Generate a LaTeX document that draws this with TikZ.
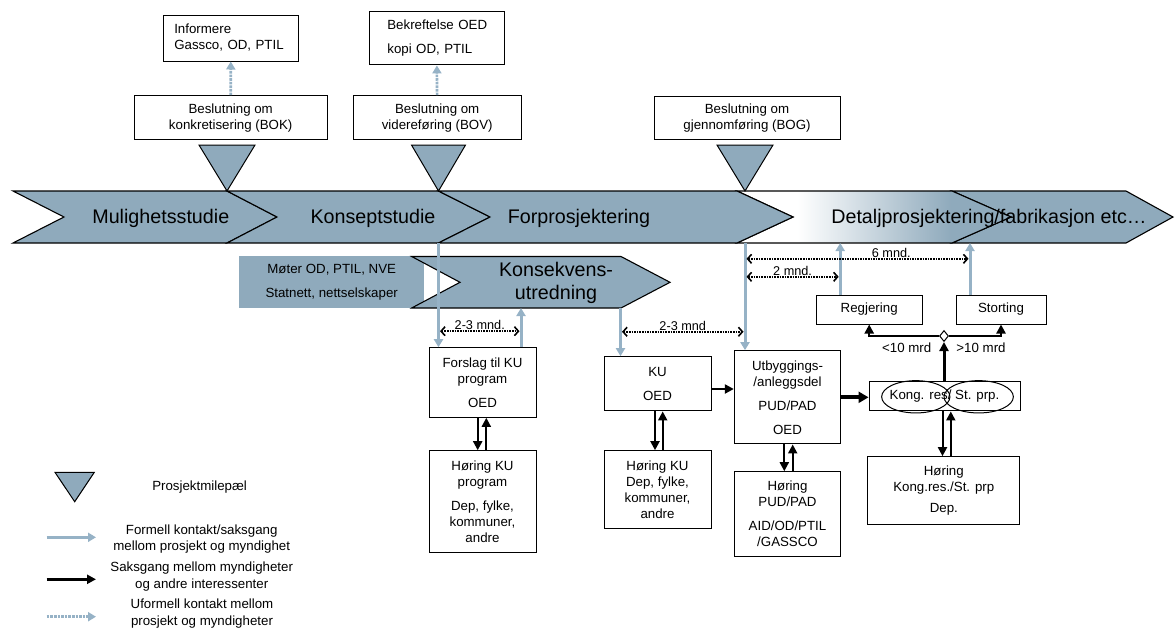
\documentclass[tikz,border=0pt]{standalone}
\usepackage{fontspec}
\setmainfont{Liberation Sans}
\usetikzlibrary{arrows.meta,shapes.geometric,calc}
\definecolor{phase}{RGB}{143,170,188}
\definecolor{contact}{RGB}{150,178,198}
\pgfdeclarehorizontalshading{detailfade}{100bp}{color(0bp)=(white); color(36bp)=(white); color(64bp)=(phase); color(100bp)=(phase)}
\tikzset{
  phasepath/.style={fill=phase, draw=black, line width=1.1pt},
  milestone/.style={fill=phase, draw=black, line width=1pt},
  infobox/.style={draw, line width=1pt, fill=white, align=center, inner sep=0pt, font=\fontsize{13.3}{16}\selectfont},
  formal/.style={contact, line width=3pt, -{Triangle[width=9pt,length=8pt]}},
  informal/.style={contact, line width=2.6pt, densely dotted, -{Triangle[width=9pt,length=8pt]}},
  saks/.style={black, line width=2pt, -{Triangle[width=9pt,length=9pt]}},
  timespan/.style={densely dotted, line width=1.6pt, {Straight Barb[length=4pt,width=9pt]}-{Straight Barb[length=4pt,width=9pt]}, shorten <=1.5pt, shorten >=1.5pt},
  spanlabel/.style={above, inner sep=0.5pt, font=\fontsize{12.7}{15}\selectfont},
  phaselabel/.style={anchor=base, font=\fontsize{19.7}{24}\selectfont},
  legendtext/.style={align=center, font=\fontsize{13.3}{16.6}\selectfont}
}

\begin{document}
\begin{tikzpicture}[x=1pt, y=-1pt]
  \useasboundingbox (0,0) rectangle (1175,629);

  % Phase band
  \draw[phasepath] (13,191) -- (227,191) -- (277,217) -- (227,243) -- (13,243) -- (64,217) -- cycle;
  \draw[phasepath] (227,191) -- (438.5,191) -- (490,217) -- (438.5,243) -- (227,243) -- (277,217) -- cycle;
  \draw[phasepath] (952,191) -- (1126,191) -- (1173,217) -- (1126,243) -- (952,243) -- (1011,217) -- cycle;
  \shadedraw[shading=detailfade, draw=black, line width=1.1pt] (737,191) -- (952,191) -- (1011,217) -- (952,243) -- (737,243) -- (793,217) -- cycle;
  \draw[phasepath] (438.5,191) -- (737,191) -- (793,217) -- (737,243) -- (438.5,243) -- (490,217) -- cycle;
  \coordinate (bandS) at (0,243);

  \node[phaselabel] (mul) at (160.8,223) {Mulighetsstudie};
  \node[phaselabel] (kon) at (373,223) {Konseptstudie};
  \node[phaselabel] (forp) at (579,223) {Forprosjektering};
  \node[phaselabel] (detalj) at (989,223) {Detaljprosjektering/fabrikasjon etc…};

  % Milestones
  \coordinate (mBOK) at (227,191);
  \coordinate (mBOV) at (438.5,191);
  \coordinate (mBOG) at (745,191);
  \draw[milestone] (mBOK) -- ++(-28,-46) -- ++(56,0) -- cycle;
  \draw[milestone] (mBOV) -- ++(-27,-46) -- ++(54,0) -- cycle;
  \draw[milestone] (mBOG) -- ++(-28,-46) -- ++(56,0) -- cycle;

  % Decisions
  \node[infobox, minimum width=192.7pt, minimum height=44.3pt] (bok) at (230.7,117.8) {Beslutning om\\konkretisering (BOK)};
  \node[infobox, minimum width=167.7pt, minimum height=44.3pt] (bov) at (437.2,117.8) {Beslutning om\\videreføring (BOV)};
  \node[infobox, minimum width=186pt, minimum height=43.3pt] (bog) at (747,118.3) {Beslutning om\\gjennomføring (BOG)};
  \node[infobox, align=left, text width=113pt, inner xsep=11pt, minimum height=46pt] (inform) at (230.8,38) {Informere\\Gassco, OD, PTIL};
  \node[infobox, align=left, text width=106.7pt, inner xsep=14pt, minimum height=53.3pt] (confirm) at (436.7,38.3) {\hspace*{4pt}Bekreftelse OED\\[8pt]\hspace*{4pt}kopi OD, PTIL};

  % Impact assessment
  \node[fill=phase, minimum width=184.7pt, minimum height=51.7pt, inner sep=0pt, align=center, font=\fontsize{13.3}{16}\selectfont] (moter) at (331.7,281.8) {Møter OD, PTIL, NVE\\[8pt]Statnett, nettselskaper};
  \draw[phasepath] (411.7,256.5) -- (621,256.5) -- (670,282.3) -- (621,308) -- (411.7,308) -- (460,282.3) -- cycle;
  \coordinate (kuS) at (0,308);
  \node[align=center, font=\fontsize{19.7}{23.3}\selectfont] (kons) at (556,283) {Konsekvens-\\utredning};

  % Case boxes
  \node[infobox, minimum width=107pt, minimum height=69.6pt] (forslag) at (482.5,382.5) {Forslag til KU\\program\\[8pt]OED};
  \node[infobox, minimum width=107pt, minimum height=102pt] (horku1) at (482.5,501.7) {Høring KU\\program\\[8pt]Dep, fylke,\\kommuner,\\andre};
  \node[infobox, minimum width=107pt, minimum height=54.3pt] (ku) at (657.5,383.8) {KU\\[8pt]OED};
  \node[infobox, minimum width=107pt, minimum height=77.6pt] (horku2) at (657.5,489.5) {Høring KU\\Dep, fylke,\\kommuner,\\andre};
  \node[infobox, minimum width=106.4pt, minimum height=93.3pt] (utb) at (787.5,397.3) {Utbyggings-\\/anleggsdel\\[8pt]PUD/PAD\\[8pt]OED};
  \node[infobox, minimum width=106.4pt, minimum height=85pt] (horpud) at (787.5,514.2) {Høring\\PUD/PAD\\[8pt]AID/OD/PTIL\\/GASSCO};
  \node[infobox, minimum width=106.3pt, minimum height=29pt] (regj) at (869.2,309.5) {Regjering};
  \node[infobox, minimum width=90pt, minimum height=29pt] (stort) at (1001,309.5) {Storting};
  \node[infobox, minimum width=151pt, minimum height=29.3pt] (kong) at (944.5,396.3) {Kong. res/ St. prp.};
  \node[draw, ellipse, line width=1pt, minimum width=68.3pt, minimum height=32.3pt, inner sep=0pt] (kres) at (915.8,396.8) {};
  \node[draw, ellipse, line width=1pt, minimum width=69.3pt, minimum height=32.3pt, inner sep=0pt] (stprp) at (978.7,396.8) {};
  \node[infobox, minimum width=152.3pt, minimum height=68.3pt] (horkong) at (943.8,490.8) {Høring\\Kong.res./St. prp\\[5pt]Dep.};
  \node[draw, diamond, fill=white, line width=1pt, minimum width=9pt, minimum height=11pt, inner sep=0pt] (split) at (944,336) {};

  % Informal contact
  \draw[informal] (bok) -- (inform);
  \draw[informal] (bov) -- (confirm);

  % Formal contact
  \coordinate (kuUp) at ([xshift=38.5pt]forslag.north);
  \coordinate (kuDown) at ([xshift=-37pt]ku.north);
  \coordinate (regUp) at ([xshift=-29pt]regj.north);
  \coordinate (stoUp) at ([xshift=-31pt]stort.north);
  \draw[formal] (mBOV |- bandS) -- (forslag.north -| mBOV);
  \draw[formal] (kuUp) -- (kuUp |- kuS);
  \draw[formal] (kuDown |- kuS) -- (kuDown);
  \draw[formal] (mBOG |- bandS) -- (utb.north -| mBOG);
  \draw[formal] (regUp) -- (regUp |- bandS);
  \draw[formal] (stoUp) -- (stoUp |- bandS);

  % Durations
  \draw[timespan] ([yshift=16pt]forslag.north -| mBOV) -- ([yshift=16pt]kuUp) node[spanlabel, midway] {2-3 mnd.};
  \draw[timespan] ([yshift=24.4pt]kuDown) -- ([yshift=24.4pt]kuDown -| mBOG) node[spanlabel, midway] {2-3 mnd};
  \draw[timespan] ([yshift=35.7pt]regUp -| mBOG) -- ([yshift=35.7pt]stoUp) node[spanlabel, pos=0.65] {6 mnd.};
  \draw[timespan] ([yshift=17.7pt]regUp -| mBOG) -- ([yshift=17.7pt]regUp) node[spanlabel, midway] {2 mnd.};

  % Case handling
  \draw[saks] ([xshift=-4.8pt]forslag.south) -- ([xshift=-4.8pt]forslag.south |- horku1.north);
  \draw[saks] ([xshift=3.8pt]horku1.north) -- ([xshift=3.8pt]horku1.north |- forslag.south);
  \draw[saks] ([xshift=-2.5pt]ku.south) -- ([xshift=-2.5pt]ku.south |- horku2.north);
  \draw[saks] ([xshift=5.2pt]horku2.north) -- ([xshift=5.2pt]horku2.north |- ku.south);
  \draw[saks] ([xshift=-3.2pt]utb.south) -- ([xshift=-3.2pt]utb.south |- horpud.north);
  \draw[saks] ([xshift=5.2pt]horpud.north) -- ([xshift=5.2pt]horpud.north |- utb.south);
  \draw[saks] ([xshift=-2pt]kong.south) -- ([xshift=-2pt]kong.south |- horkong.north);
  \draw[saks] ([xshift=7pt]horkong.north) -- ([xshift=7pt]horkong.north |- kong.south);
  \draw[saks, line width=2.5pt] ([yshift=-5.2pt]ku.east) -- ([yshift=-5.2pt]ku.east -| utb.west);
  \draw[saks, line width=4pt, -{Triangle[width=11pt,length=10pt]}] (utb.east) -- (utb.east -| kong.west);
  \draw[saks, line width=3pt] (kong.north -| split) -- (split.south);
  \draw[saks, line width=2.5pt] (split.west) -| (regj.south);
  \draw[saks, line width=2.5pt] (split.east) -| (stort.south);
  \node[font=\fontsize{13.3}{16}\selectfont] (small) at (906.7,347.3) {<10 mrd};
  \node[font=\fontsize{13.3}{16}\selectfont] (large) at (981,347.3) {>10 mrd};

  % Legend
  \draw[milestone] (55,472.3) -- (94.3,472.3) -- (74.7,501.7) -- cycle;
  \node[legendtext] (lgmile) at (199.6,487.3) {Prosjektmilepæl};
  \coordinate (lg1) at (46.7,537.3);
  \coordinate (lg2) at (46.7,579.3);
  \coordinate (lg3) at (46.7,616.7);
  \draw[formal] (lg1) -- ++(49.3,0);
  \draw[saks, line width=3pt] (lg2) -- ++(49.3,0);
  \draw[informal] (lg3) -- ++(49.3,0);
  \node[legendtext] (lgformal) at (201.7,539) {Formell kontakt/saksgang\\mellom prosjekt og myndighet};
  \node[legendtext] (lgsaks) at (201.7,576.7) {Saksgang mellom myndigheter\\og andre interessenter};
  \node[legendtext] (lginf) at (202,613.3) {Uformell kontakt mellom\\prosjekt og myndigheter};
\end{tikzpicture}
\end{document}
